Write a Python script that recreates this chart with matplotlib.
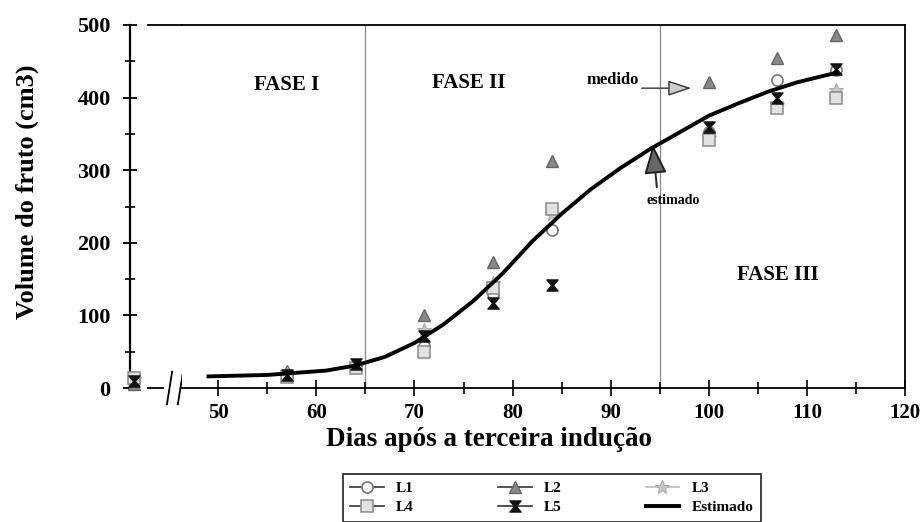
import matplotlib.pyplot as plt
import numpy as np
from matplotlib.lines import Line2D
from matplotlib.path import Path
from matplotlib.ticker import MultipleLocator

plt.rcParams['font.family'] = ['Liberation Serif', 'DejaVu Serif']

# Volume medido por lote (cm3) em cada dia
dias = [57, 64, 71, 78, 84, 100, 107, 113]
L1 = [17, 30, 58, 130, 218, 352, 424, 438]
L2 = [24, 31, 100, 174, 312, 421, 455, 486]
L3 = [19, 30, 80, 145, 240, 345, 390, 410]
L4 = [15, 28, 50, 138, 246, 342, 385, 400]
L5 = [18, 33, 72, 117, 142, 360, 400, 440]

# valores no dia 0 (antes da quebra do eixo)
dia0 = 0
inicio = {'L1': 8, 'L2': 5, 'L3': 12, 'L4': 14, 'L5': 10}

# curva estimada
dias_est = [49, 52, 55, 58, 61, 64, 67, 70, 73, 76, 79, 82, 85, 88, 91, 94,
            97, 100, 103, 106, 109, 112, 113]
vol_est = [16, 17, 18, 21, 24, 31, 43, 62, 88, 120, 158, 202, 240, 274, 303,
           329, 352, 375, 392, 408, 421, 431, 434]

ampulheta = Path([(-1, 1), (1, 1), (0.15, 0), (1, -1), (-1, -1), (-0.15, 0), (-1, 1)],
                 [Path.MOVETO] + [Path.LINETO] * 5 + [Path.CLOSEPOLY])

estilos = {
    'L1': dict(marker='o', mfc='white', mec='#777777', ms=8, mew=1.2),
    'L2': dict(marker='^', mfc='#888888', mec='#666666', ms=8, mew=1),
    'L3': dict(marker='*', mfc='#c8c8c8', mec='#aaaaaa', ms=10, mew=0.8),
    'L4': dict(marker='s', mfc='#e2e2e2', mec='#8a8a8a', ms=8, mew=1.1),
    'L5': dict(marker=ampulheta, mfc='#111111', mec='#111111', ms=8, mew=1),
}
series = {'L1': L1, 'L2': L2, 'L3': L3, 'L4': L4, 'L5': L5}

fig = plt.figure(figsize=(9.24, 5.22), dpi=100)
ax0 = fig.add_axes([130 / 924, 1 - 388 / 522, 52 / 924, 363 / 522])
ax = fig.add_axes([182 / 924, 1 - 388 / 522, 723 / 924, 363 / 522])

for nome, vals in series.items():
    ax.plot(dias, vals, ls='none', clip_on=False, zorder=3, **estilos[nome])
    ax0.plot([dia0], [inicio[nome]], ls='none', clip_on=False, zorder=3, **estilos[nome])

ax.plot(dias_est, vol_est, color='black', lw=2.8, zorder=4)

# linhas das fases
for x in (65, 95):
    ax.axvline(x, color='#888888', lw=0.9, zorder=1)

ax.set_xlim(46.3, 120)
ax.set_ylim(0, 500)
ax0.set_xlim(-0.5, 6)
ax0.set_ylim(0, 500)

ax.spines['left'].set_visible(False)
ax.tick_params(axis='y', left=False, labelleft=False)
ax.xaxis.set_major_locator(MultipleLocator(10))
ax.xaxis.set_minor_locator(MultipleLocator(5))
ax.tick_params(axis='x', which='major', direction='inout', length=11, width=1.2,
               labelsize=15, pad=5)
ax.tick_params(axis='x', which='minor', direction='inout', length=8, width=1.2)
for lab in ax.get_xticklabels():
    lab.set_fontweight('bold')
for s in ax.spines.values():
    s.set_linewidth(1.3)

ax0.spines['right'].set_visible(False)
ax0.tick_params(axis='x', bottom=False, labelbottom=False)
ax0.yaxis.set_major_locator(MultipleLocator(100))
ax0.yaxis.set_minor_locator(MultipleLocator(50))
ax0.tick_params(axis='y', which='major', direction='inout', length=10, width=1.3,
                labelsize=16, pad=9)
ax0.tick_params(axis='y', which='minor', direction='inout', length=7, width=1.2)
for lab in ax0.get_yticklabels():
    lab.set_fontweight('bold')
ax0.spines['left'].set_linewidth(1.6)
ax0.spines['bottom'].set_bounds(1.75, 3.6)
ax0.spines['bottom'].set_linewidth(1.3)
ax0.spines['top'].set_bounds(1.75, 6)
ax0.spines['top'].set_linewidth(1.3)

# marcas de quebra do eixo x
for xf in (0.76, 0.97):
    ax0.plot([xf - 0.05, xf + 0.05], [-0.045, 0.045], transform=ax0.transAxes,
             color='black', lw=1.3, clip_on=False)

ax0.set_ylabel('Volume do fruto (cm3)', fontsize=19, fontweight='bold')
ax0.yaxis.label.set_va('center')
ax0.yaxis.set_label_coords(-1.98, 0.54)
ax.set_xlabel('Dias após a terceira indução', fontsize=19.5, fontweight='bold')
ax.xaxis.label.set_va('center')
ax.xaxis.set_label_coords(0.425, -0.142)

ax.text(57, 418, 'FASE I', fontsize=15, fontweight='bold', ha='center', va='center')
ax.text(75.5, 420, 'FASE II', fontsize=15, fontweight='bold', ha='center', va='center')
ax.text(107, 156, 'FASE III', fontsize=15, fontweight='bold', ha='center', va='center')

ax.annotate('medido', xy=(98.2, 413), xytext=(90.2, 413), fontsize=12,
            fontweight='bold', ha='center', va='bottom',
            arrowprops=dict(arrowstyle='-|>,head_length=1.2,head_width=0.4',
                            fc='#cccccc', ec='#333333', lw=1, shrinkA=0, shrinkB=0,
                            relpos=(1, 0)))
ax.annotate('estimado', xy=(94.3, 335), xytext=(96.4, 258), fontsize=10,
            fontweight='bold', ha='center', va='center',
            arrowprops=dict(arrowstyle='-|>,head_length=1.8,head_width=0.7',
                            fc='#666666', ec='#222222', lw=1.4, shrinkA=3, shrinkB=0,
                            relpos=(0.2, 1)))

handles = []
for nome in ['L1', 'L4', 'L2', 'L5', 'L3']:
    cor = '#bbbbbb' if nome == 'L3' else '#333333'
    handles.append(Line2D([], [], color=cor, lw=1.2, label=nome, **estilos[nome]))
handles.append(Line2D([], [], color='black', lw=2.8, label='Estimado'))
leg = fig.legend(handles=handles, ncol=3, loc='upper left',
                 bbox_to_anchor=(335 / 924, 1 - 466 / 522),
                 frameon=True, fancybox=False, edgecolor='black', handlelength=2.2,
                 columnspacing=5.5, labelspacing=0.35, borderpad=0.5,
                 prop={'weight': 'bold', 'size': 11})
leg.get_frame().set_linewidth(1.3)

fig.savefig('out.png', dpi=100)
